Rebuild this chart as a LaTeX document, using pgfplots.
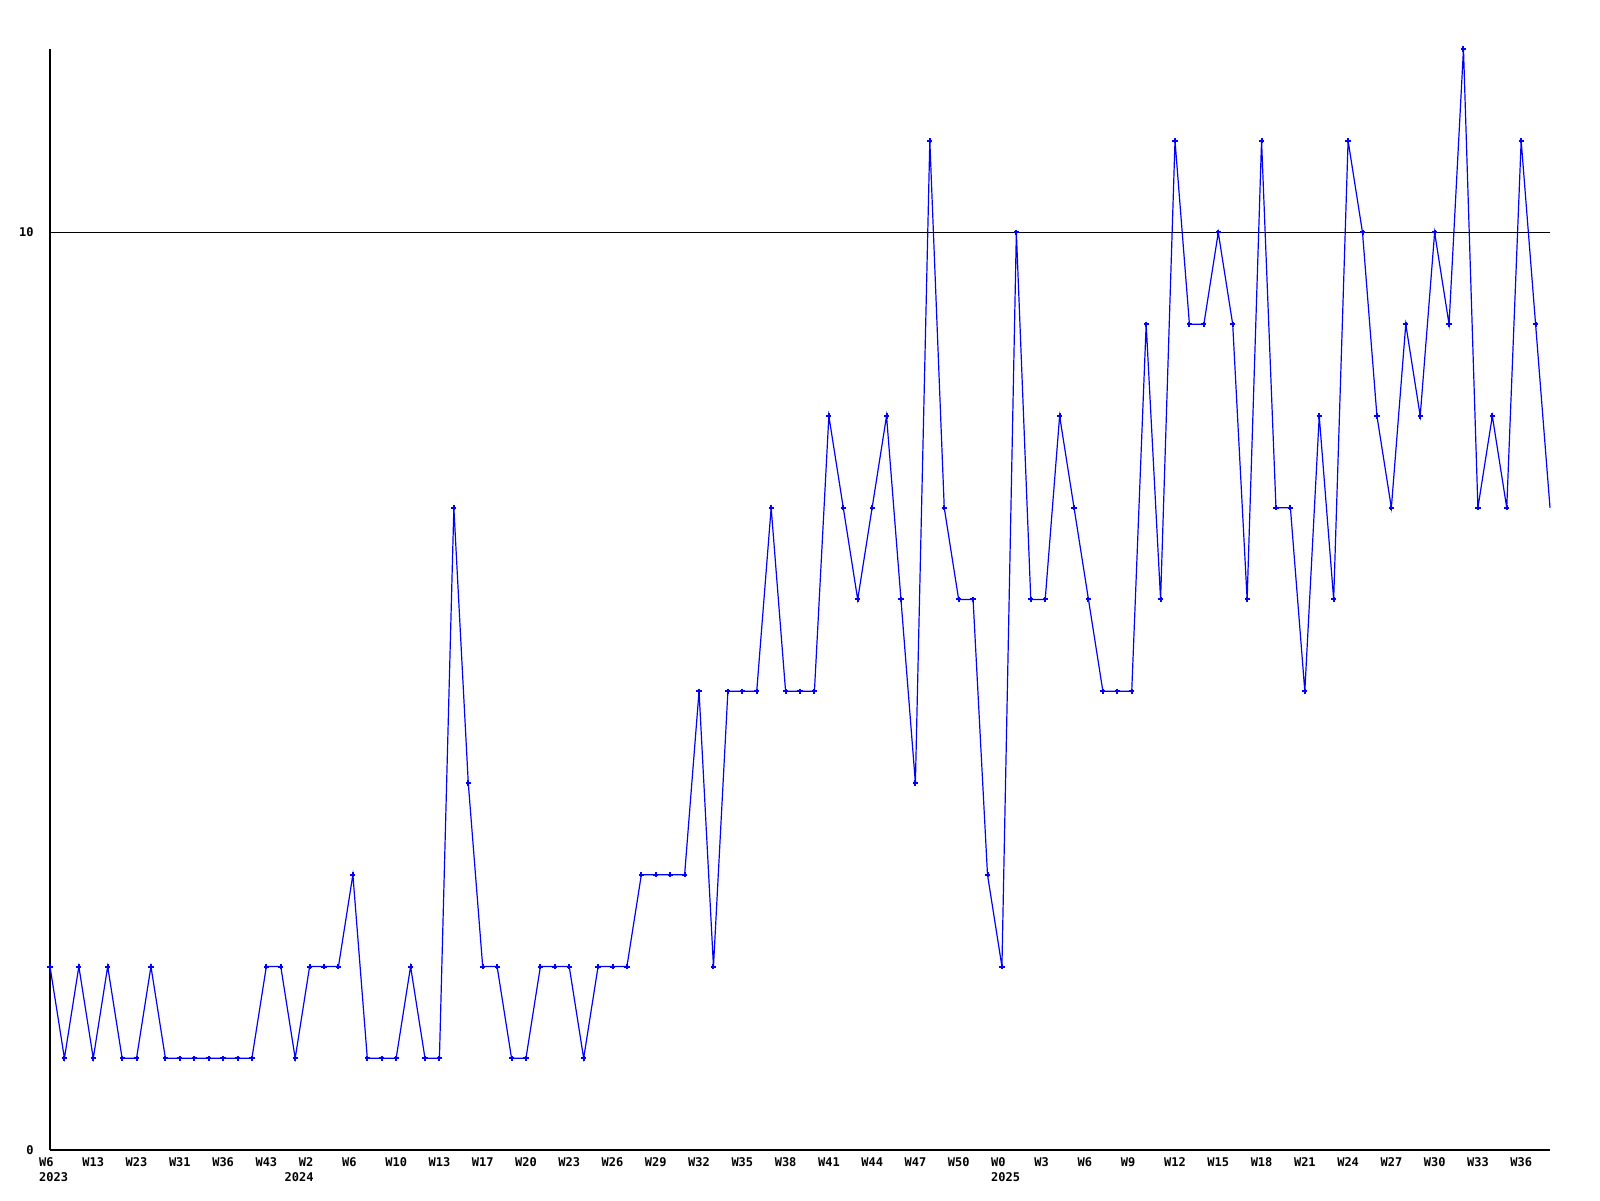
\documentclass[border=0pt]{standalone}
\usepackage{pgfplots}
\pgfplotsset{compat=1.18}
\usepackage{fontspec}
\newfontfamily\pixfont{DejaVu Sans Mono}
\definecolor{lineblue}{RGB}{0,0,255}

\begin{document}
\begin{tikzpicture}
\path[use as bounding box] (-25pt,-25pt) rectangle (775pt,575pt);
\begin{axis}[
    scale only axis,
    width=750pt, height=550.5pt,
    xmin=0, xmax=104, ymin=0, ymax=12,
    axis lines=left,
    axis line style={-, line width=0.55pt, black},
    clip=false,
    xtick={0,3,...,102},
    xticklabels={{W6\\2023},W13,W23,W31,W36,W43,{W2\\\hspace*{-7.1pt}2024},W6,W10,W13,W17,W20,W23,W26,W29,W32,W35,W38,W41,W44,W47,W50,{W0\\2025},W3,W6,W9,W12,W15,W18,W21,W24,W27,W30,W33,W36},
    ytick={0,10},
    yticklabels={0,10},
    major tick length=0pt,
    tick style={draw=none},
    ymajorgrids=true,
    grid style={black, line width=0.45pt},
    xticklabel style={font=\pixfont\bfseries\fontsize{6pt}{7.7pt}\selectfont,
        anchor=north west, align=left, inner sep=0pt, xshift=-5.6pt, yshift=-3.6pt},
    yticklabel style={font=\pixfont\bfseries\fontsize{6pt}{7.7pt}\selectfont,
        anchor=east, inner sep=0pt, xshift=-8pt},
]
% weekly values, markers on all but the last point
\addplot[color=lineblue, line width=0.6pt, mark=+,
         mark options={line width=1pt}, mark size=1.3pt] coordinates {
    (0,2) (1,1) (2,2) (3,1) (4,2) (5,1) (6,1) (7,2) (8,1) (9,1)
    (10,1) (11,1) (12,1) (13,1) (14,1) (15,2) (16,2) (17,1) (18,2) (19,2)
    (20,2) (21,3) (22,1) (23,1) (24,1) (25,2) (26,1) (27,1) (28,7) (29,4)
    (30,2) (31,2) (32,1) (33,1) (34,2) (35,2) (36,2) (37,1) (38,2) (39,2)
    (40,2) (41,3) (42,3) (43,3) (44,3) (45,5) (46,2) (47,5) (48,5) (49,5)
    (50,7) (51,5) (52,5) (53,5) (54,8) (55,7) (56,6) (57,7) (58,8) (59,6)
    (60,4) (61,11) (62,7) (63,6) (64,6) (65,3) (66,2) (67,10) (68,6) (69,6)
    (70,8) (71,7) (72,6) (73,5) (74,5) (75,5) (76,9) (77,6) (78,11) (79,9)
    (80,9) (81,10) (82,9) (83,6) (84,11) (85,7) (86,7) (87,5) (88,8) (89,6)
    (90,11) (91,10) (92,8) (93,7) (94,9) (95,8) (96,10) (97,9) (98,12) (99,7)
    (100,8) (101,7) (102,11) (103,9)
};
\addplot[color=lineblue, line width=0.6pt, no marks] coordinates {
    (103,9) (104,7)
};
\end{axis}
\end{tikzpicture}
\end{document}
